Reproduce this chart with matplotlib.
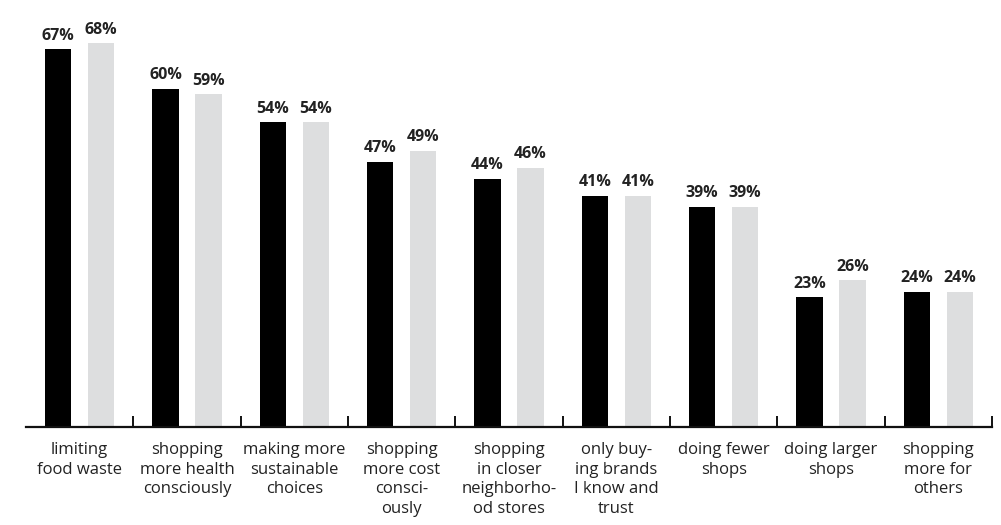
import numpy as np
import matplotlib.pyplot as plt

categories = [
    "limiting\nfood waste",
    "shopping\nmore health\nconsciously",
    "making more\nsustainable\nchoices",
    "shopping\nmore cost\nconsci-\nously",
    "shopping\nin closer\nneighborho-\nod stores",
    "only buy-\ning brands\nI know and\ntrust",
    "doing fewer\nshops",
    "doing larger\nshops",
    "shopping\nmore for\nothers",
]
series_a = [67, 60, 54, 47, 44, 41, 39, 23, 24]
series_b = [68, 59, 54, 49, 46, 41, 39, 26, 24]

plt.rcParams['font.family'] = ['Open Sans', 'DejaVu Sans']
text_color = '#222222'

fig = plt.figure(figsize=(10.01, 5.25), dpi=100)
ax = fig.add_axes([26 / 1001, 98 / 525, (992 - 26) / 1001, 417 / 525])

x = np.arange(len(categories))
width = 0.243
offset = 0.2
bars_a = ax.bar(x - offset, series_a, width, color='#000000')
bars_b = ax.bar(x + offset, series_b, width, color='#dddedf')

for bars, vals in ((bars_a, series_a), (bars_b, series_b)):
    for b, v in zip(bars, vals):
        ax.annotate(f"{v}%", (b.get_x() + b.get_width() / 2, v),
                    xytext=(0, 4), textcoords='offset points',
                    ha='center', va='bottom', fontsize=11.5,
                    fontweight='bold', color=text_color)

ax.set_xlim(-0.5, len(categories) - 0.5)
ax.set_ylim(0, 417 / 5.64)

for s in ('top', 'right', 'left'):
    ax.spines[s].set_visible(False)
ax.spines['bottom'].set_linewidth(1.6)
ax.spines['bottom'].set_color('#111111')
ax.set_yticks([])

ax.set_xticks(x)
ax.set_xticklabels(categories, fontsize=12, color=text_color, linespacing=1.3)
ax.tick_params(axis='x', which='major', length=0, pad=11)
ax.set_xticks(np.arange(0.5, len(categories)), minor=True)
ax.tick_params(axis='x', which='minor', direction='in', length=8, width=1.4,
               color='#111111')

fig.savefig('out.png', dpi=100)
